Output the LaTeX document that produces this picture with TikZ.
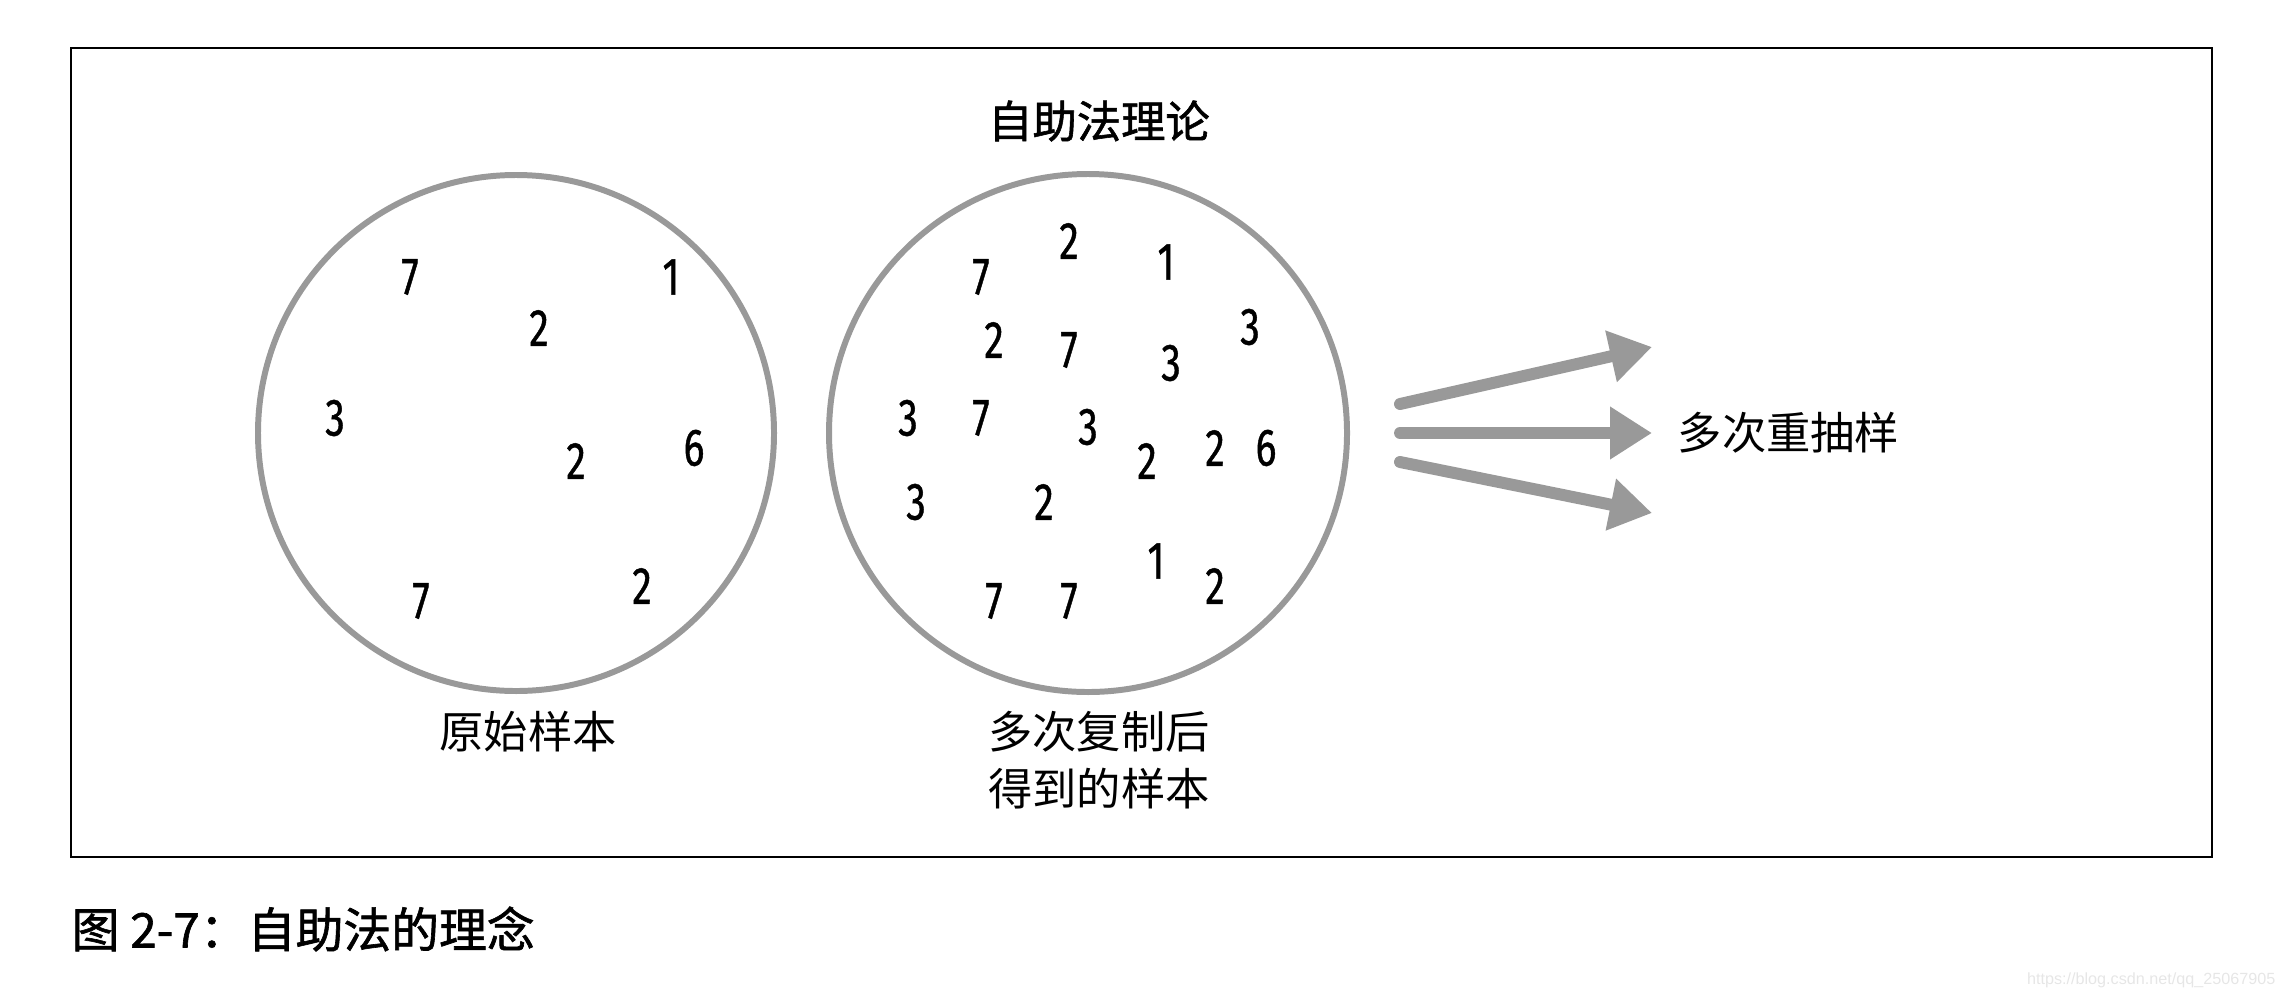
\documentclass[tikz,border=0pt]{standalone}
\usepackage{fontspec}
\usepackage{tikz}
\usetikzlibrary{arrows.meta}
\newfontfamily\cjk{Noto Sans CJK SC}
\newfontfamily\cjkmed[FakeBold=1.3]{Noto Sans CJK SC}
\newfontfamily\numfont[FakeStretch=0.74, FakeBold=0.8]{Fira Sans}
\newfontfamily\markfont{Liberation Sans}
\definecolor{ringgray}{HTML}{999999}
\definecolor{markgray}{HTML}{E6E6E6}
\tikzset{
  sample/.style={draw=ringgray, line width=1.7pt},
  digit/.style={font=\numfont\fontsize{15}{17}\selectfont, inner sep=0pt},
  caption/.style={font=\cjk\fontsize{12.6}{15}\selectfont, inner sep=0pt},
  bigarrow/.style={-{Triangle[length=0.42cm, width=0.5cm]}, draw=ringgray, fill=ringgray, line width=3.4pt, line cap=round},
  frame/.style={draw=black, line width=0.6pt}
}

\begin{document}
\begin{tikzpicture}[x=0.01cm, y=-0.01cm]
      \useasboundingbox (0,0) rectangle (2286,1000);
      \draw[frame] (71,48) rectangle (2212,857);
      \node[caption, font=\cjkmed\fontsize{12.6}{15}\selectfont] (title) at (1099,121) {自助法理论};
      % the two samples
      \draw[sample] (516,433) circle (258);
      \draw[sample] (1088,433) circle (259);
      \foreach \x/\y/\n [count=\k] in {410/277/7, 539/328/2, 671/277/1, 335/418/3,
          576/461/2, 694/448/6, 421/601/7, 642/586/2}
        \node[digit, name=orig\k] at (\x,\y) {\n};
      \foreach \x/\y/\n [count=\k] in {1069/241/2, 981/277/7, 1166/262/1, 1250/327/3,
          994/340/2, 1069/350/7, 1171/363/3, 908/418/3, 981/418/7, 1088/427/3,
          1147/461/2, 1215/448/2, 1266/448/6, 916/502/3, 1044/502/2, 1156/561/1,
          1215/586/2, 994/601/7, 1069/601/7}
        \node[digit, name=boot\k] at (\x,\y) {\n};
      \node[caption] (origlbl) at (528,732) {原始样本};
      \node[caption] (bootlbl) at (1099,732) {多次复制后};
      \node[caption] (bootlbl2) at (1099,789) {得到的样本};
      % resampling arrows
      \coordinate (s1) at (1400,404);
      \coordinate (s2) at (1400,433);
      \coordinate (s3) at (1400,462);
      \coordinate (e1) at (1652,347);
      \coordinate (e2) at (1652,433);
      \coordinate (e3) at (1652,513);
      \draw[bigarrow] (s1) -- (e1);
      \draw[bigarrow] (s2) -- (e2);
      \draw[bigarrow] (s3) -- (e3);
      \node[caption, anchor=west] (resample) at (1677,433) {多次重抽样};
      \node[caption, anchor=west, font=\cjkmed\fontsize{13.6}{16}\selectfont] (figcap) at (71,929) {图 2-7：自助法的理念};
      \node[anchor=east, inner sep=0pt, text=markgray, font=\markfont\fontsize{4.6}{5}\selectfont] (mark) at (2276,980) {https://blog.csdn.net/qq\_25067905};
    \end{tikzpicture}
\end{document}
